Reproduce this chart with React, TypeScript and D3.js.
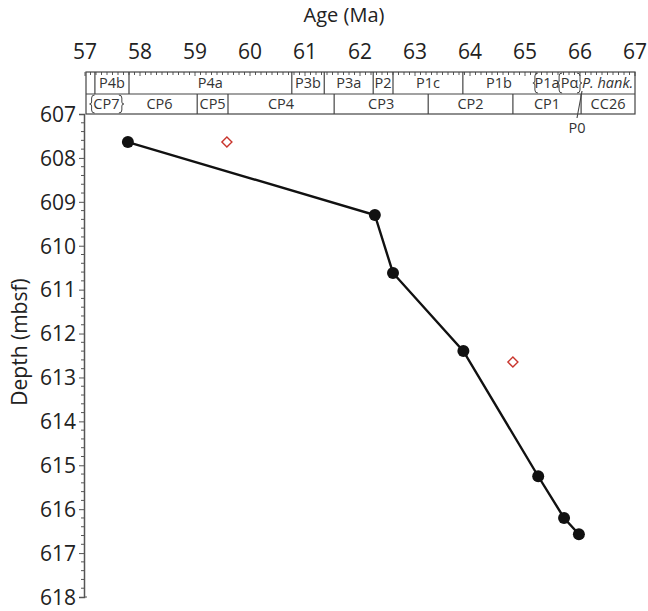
import React, { useEffect, useRef } from "react";
import * as d3 from "d3";

// age-depth tie points (black) and the two outliers (red diamonds)
const tieAges = [57.78, 62.27, 62.6, 63.88, 65.24, 65.71, 65.98];
const tieDepths = [607.64, 609.3, 610.62, 612.4, 615.25, 616.2, 616.57];
const outAges = [59.58, 64.78];
const outDepths = [607.64, 612.65];

// planktic foram zones (top row)
const pfZones = ["", "P4b", "P4a", "P3b", "P3a", "P2", "P1c", "P1b", "P1a", "Pα", "P. hank."];
const pfBounds = [57, 57.18, 57.8, 60.76, 61.35, 62.24, 62.6, 63.87, 65.18, 65.62, 66.0, 67];
const pfEdges = ["line", "line", "line", "line", "line", "line", "line", "line", "braceL", "braceL", "braceR", "line"];

// nannofossil zones (second row)
const nnZones = ["CP7", "CP6", "CP5", "CP4", "CP3", "CP2", "CP1", "CC26"];
const nnBounds = [57, 57.67, 59.04, 59.6, 61.53, 63.24, 64.78, 66.02, 67];
const nnEdges = ["line", "braceR", "line", "line", "line", "line", "line", "line", "line"];
const nnExtraBraces = [57.12];

const ageTicks = [57, 58, 59, 60, 61, 62, 63, 64, 65, 66, 67];
const depthTicks = [607, 608, 609, 610, 611, 612, 613, 614, 615, 616, 617, 618];

const W = 648;
const H = 611;
const FONT = "'Open Sans', sans-serif";

function brace(x: number, y0: number, y1: number, side: string) {
  // curly brace drawn vertically; side "L" opens to the right
  const s = side === "L" ? 1 : -1;
  const m = (y0 + y1) / 2;
  return `M${x + 3 * s},${y0 + 1} Q${x},${y0 + 1} ${x},${y0 + 4} L${x},${m - 2} Q${x},${m} ${x - 2 * s},${m} Q${x},${m} ${x},${m + 2} L${x},${y1 - 4} Q${x},${y1 - 1} ${x + 3 * s},${y1 - 1}`;
}

export default function App() {
  const ref = useRef<SVGSVGElement>(null);

  useEffect(() => {
    document.body.style.margin = "0";
    const svg = d3.select(ref.current);
    svg.selectAll("*").remove();

    const x = d3.scaleLinear().domain([57, 67]).range([85, 635]);
    const y = d3.scaleLinear().domain([607, 618]).range([114, 597]);

    const rowTop = 72;
    const rowMid = 94;
    const rowBot = 114;

    // age axis title + labels
    svg.append("text")
      .attr("x", 344).attr("y", 22)
      .attr("text-anchor", "middle")
      .attr("font-family", FONT).attr("font-size", 20)
      .attr("fill", "#222")
      .text("Age (Ma)");

    svg.selectAll(".agelab")
      .data(ageTicks)
      .enter()
      .append("text")
      .attr("x", (d) => x(d))
      .attr("y", 59)
      .attr("text-anchor", "middle")
      .attr("font-family", FONT).attr("font-size", 21)
      .attr("fill", "#222")
      .text((d) => d);

    // zone box
    const g = svg.append("g").attr("stroke", "#444").attr("fill", "none");
    g.append("rect")
      .attr("x", x(57) + 1).attr("y", rowTop)
      .attr("width", x(67) - x(57) - 1).attr("height", rowBot - rowTop)
      .attr("stroke-width", 1.2);
    g.append("line")
      .attr("x1", x(57) + 1).attr("x2", x(67))
      .attr("y1", rowMid).attr("y2", rowMid)
      .attr("stroke-width", 1.2);

    // minor ticks hanging off the top of the box
    const minor = d3.range(570, 671).map((d) => d / 10);
    g.selectAll(".mt")
      .data(minor)
      .enter()
      .append("line")
      .attr("x1", (d) => x(d)).attr("x2", (d) => x(d))
      .attr("y1", rowTop).attr("y2", (d, i) => rowTop + (i % 10 === 0 ? 4 : 3))
      .attr("stroke-width", 0.9);

    const drawRow = (zones: string[], bounds: number[], edges: string[], y0: number, y1: number) => {
      bounds.forEach((b, i) => {
        if (i === 0 || i === bounds.length - 1) return;
        if (edges[i] === "line") {
          g.append("line")
            .attr("x1", x(b)).attr("x2", x(b))
            .attr("y1", y0).attr("y2", y1)
            .attr("stroke-width", 1.2);
        } else {
          g.append("path")
            .attr("d", brace(x(b), y0, y1, edges[i] === "braceL" ? "L" : "R"))
            .attr("stroke-width", 1);
        }
      });
      svg.selectAll(null)
        .data(zones)
        .enter()
        .append("text")
        .attr("x", (d, i) => x((bounds[i] + bounds[i + 1]) / 2) + (d === "CP7" ? 3 : 0))
        .attr("y", (y0 + y1) / 2 + 5)
        .attr("text-anchor", "middle")
        .attr("font-family", FONT).attr("font-size", 14.5)
        .attr("font-style", (d) => (d === "P. hank." ? "italic" : "normal"))
        .attr("fill", "#333")
        .text((d) => d);
    };

    drawRow(pfZones, pfBounds, pfEdges, rowTop, rowMid);
    drawRow(nnZones, nnBounds, nnEdges, rowMid, rowBot);
    nnExtraBraces.forEach((b) => {
      g.append("path").attr("d", brace(x(b), rowMid, rowBot, "L")).attr("stroke-width", 1);
    });

    // P0 pointer
    g.append("line")
      .attr("x1", x(66) - 3).attr("y1", 118)
      .attr("x2", x(66) + 2).attr("y2", 91)
      .attr("stroke-width", 1.1);
    svg.append("text")
      .attr("x", x(66) - 3).attr("y", 133)
      .attr("text-anchor", "middle")
      .attr("font-family", FONT).attr("font-size", 14.5)
      .attr("fill", "#333")
      .text("P0");

    // depth axis
    const yAxis = d3.axisLeft(y).tickValues(depthTicks).tickSize(5).tickPadding(3).tickFormat(d3.format("d"));
    const ya = svg.append("g").attr("transform", `translate(${x(57) - 1},0)`).call(yAxis);
    ya.select(".domain").attr("stroke", "#555").attr("stroke-width", 1.5);
    ya.selectAll(".tick line").attr("stroke", "#555");
    ya.selectAll(".tick text").attr("font-family", FONT).attr("font-size", 21).attr("fill", "#222").attr("dy", "0.35em");

    const yMinor = d3.range(6070, 6181, 2).map((d) => d / 10).filter((d) => Math.abs(d - Math.round(d)) > 0.01);
    ya.selectAll(".ymt")
      .data(yMinor)
      .enter()
      .append("line")
      .attr("x1", -3).attr("x2", 0)
      .attr("y1", (d) => y(d)).attr("y2", (d) => y(d))
      .attr("stroke", "#555");
    ya.append("line").attr("x1", 0).attr("x2", 3).attr("y1", y(618)).attr("y2", y(618)).attr("stroke", "#555");

    svg.append("text")
      .attr("transform", "translate(27,342) rotate(-90)")
      .attr("text-anchor", "middle")
      .attr("font-family", FONT).attr("font-size", 21)
      .attr("fill", "#222")
      .text("Depth (mbsf)");

    // age-depth line + points
    const ties = tieAges.map((a, i) => [a, tieDepths[i]] as [number, number]);
    const line = d3.line<[number, number]>().x((d) => x(d[0])).y((d) => y(d[1]));
    svg.append("path")
      .attr("d", line(ties))
      .attr("fill", "none")
      .attr("stroke", "#111")
      .attr("stroke-width", 2.4);
    svg.selectAll(".pt")
      .data(ties)
      .enter()
      .append("circle")
      .attr("cx", (d) => x(d[0]))
      .attr("cy", (d) => y(d[1]))
      .attr("r", 6)
      .attr("fill", "#111");

    const sym = d3.symbol().type(d3.symbolDiamond2).size(64);
    svg.selectAll(".out")
      .data(outAges)
      .enter()
      .append("path")
      .attr("d", sym())
      .attr("transform", (d, i) => `translate(${x(d)},${y(outDepths[i])})`)
      .attr("fill", "none")
      .attr("stroke", "#c9362e")
      .attr("stroke-width", 1.4);
  }, []);

  return <svg ref={ref} width={W} height={H} style={{ display: "block", background: "#fff" }} />;
}
